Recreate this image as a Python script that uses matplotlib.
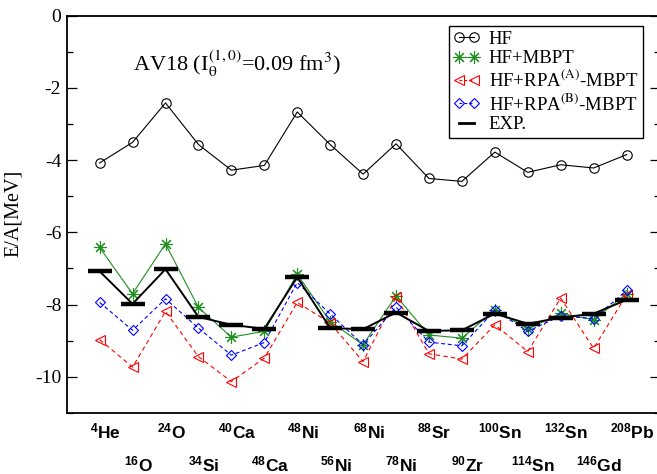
import matplotlib
matplotlib.use("Agg")
import matplotlib.pyplot as plt
from matplotlib.lines import Line2D
from matplotlib.ticker import MultipleLocator, NullLocator, FuncFormatter
from matplotlib.font_manager import FontProperties

plt.rcParams['mathtext.fontset'] = 'stix'
plt.rcParams['mathtext.rm'] = 'Liberation Sans:bold'
plt.rcParams['mathtext.it'] = 'Liberation Sans:bold'
plt.rcParams['mathtext.bf'] = 'Liberation Sans:bold'
plt.rcParams['mathtext.sf'] = 'Liberation Sans:bold'

# ---- data ----
mass_numbers = [4, 16, 24, 34, 40, 48, 48, 56, 68, 78, 88, 90, 100, 114, 132, 146, 208]
elements = ["He", "O", "O", "Si", "Ca", "Ca", "Ni", "Ni", "Ni", "Ni", "Sr", "Zr", "Sn", "Sn", "Sn", "Gd", "Pb"]

hf = [-4.08, -3.51, -2.42, -3.57, -4.28, -4.15, -2.67, -3.57, -4.39, -3.55,
      -4.51, -4.59, -3.78, -4.34, -4.13, -4.22, -3.85]
hf_mbpt = [-6.42, -7.70, -6.32, -8.08, -8.90, -8.74, -7.16, -8.47, -9.11, -7.76,
           -8.84, -8.93, -8.14, -8.68, -8.24, -8.42, -7.70]
rpa_a = [-8.97, -9.73, -8.19, -9.44, -10.13, -9.48, -7.94, -8.51, -9.58, -7.79,
         -9.36, -9.51, -8.56, -9.30, -7.82, -9.21, -7.73]
rpa_b = [-7.94, -8.71, -7.84, -8.65, -9.40, -9.05, -7.39, -8.26, -9.11, -8.07,
         -9.04, -9.14, -8.16, -8.74, -8.31, -8.39, -7.61]
exp = [-7.08, -7.98, -7.02, -8.34, -8.56, -8.67, -7.24, -8.65, -8.68, -8.22,
       -8.73, -8.71, -8.25, -8.53, -8.36, -8.25, -7.87]

x = list(range(len(hf)))

W, H = 657, 474
fig = plt.figure(figsize=(W / 100, H / 100), dpi=100)
left, right, top, bottom = 66.7, 659.5, 15.5, 413.0
ax = fig.add_axes([left / W, 1 - bottom / H, (right - left) / W, (bottom - top) / H])

green = '#1f8f1f'
ax.plot(x, hf, '-', color='black', lw=0.8, marker='o', ms=6.8, mfc='none', mec='black', mew=0.8, zorder=3)
ax.plot(x, hf_mbpt, '-', color=green, lw=0.8, marker=(8, 2, 0), ms=9, mec=green, mew=0.8, zorder=3)
ax.plot(x, rpa_a, color='red', lw=0.8, dashes=[4, 3], marker='<', ms=7.5, mfc='none', mec='red', mew=0.8, zorder=3)
ax.plot(x, rpa_b, color='blue', lw=0.8, dashes=[3.5, 2.5], marker='D', ms=5.5, mfc='none', mec='blue', mew=0.8, zorder=3)
ax.plot(x, exp, '-', color='black', lw=1.4, zorder=4)
ax.plot(x, exp, linestyle='none', marker='_', ms=17, mew=3.2, color='black', zorder=5)

ax.set_xlim(-1, 17)
ax.set_ylim(-11, 0)

ax.xaxis.set_major_locator(NullLocator())
ax.yaxis.set_major_locator(MultipleLocator(2))
ax.yaxis.set_minor_locator(MultipleLocator(1))
ax.yaxis.set_major_formatter(FuncFormatter(lambda v, p: f"{int(round(v))}"))
ax.tick_params(axis='y', which='major', direction='in', length=7.5, width=0.9, right=True,
               labelsize=14, pad=4)
ax.tick_params(axis='y', which='minor', direction='in', length=4.5, width=0.9, right=True)
for sp in ax.spines.values():
    sp.set_linewidth(1.3)

ax.set_ylabel("E/A[MeV]", fontfamily='Liberation Serif', fontsize=14.5)
ax.yaxis.set_label_coords(-(left - 23) / (right - left), 1 - (213.5 - top) / (bottom - top))
for lab in ax.get_yticklabels():
    lab.set_fontfamily('Liberation Serif')

# x labels, two rows
xt = ax.get_xaxis_transform()
for i, (a, el) in enumerate(zip(mass_numbers, elements)):
    yrow = -0.063 if i % 2 == 0 else -0.148
    ax.text(i + 0.17, yrow, f"$^{{{a}}}$" + el, transform=xt, ha='center', va='baseline',
            fontfamily='Liberation Sans', fontweight='bold', fontsize=12.5,
            math_fontfamily='custom', clip_on=False)

ax.text((133 - left) / (right - left), 1 - (71 - top) / (bottom - top),
        "AV18 (I$_{\\mathrm{\u03b8}}^{(1,0)}$=0.09 fm$^3$)", transform=ax.transAxes,
        fontfamily='Liberation Serif', fontsize=16, ha='left', va='baseline',
        math_fontfamily='stix')

handles = [
    Line2D([], [], color='black', lw=0.8, marker='o', ms=6.8, mfc='none', mew=0.8),
    Line2D([], [], color=green, lw=0.8, marker=(8, 2, 0), ms=9, mew=0.8),
    Line2D([], [], color='red', lw=0.8, dashes=[2.5, 2], marker='<', ms=7.5, mfc='none', mew=0.8),
    Line2D([], [], color='blue', lw=0.8, dashes=[2.5, 2], marker='D', ms=5.5, mfc='none', mew=0.8),
    Line2D([], [], color='black', lw=2.0),
]
labels = ["HF", "HF+MBPT", r"HF+RPA$^{(\mathrm{A})}$-MBPT", r"HF+RPA$^{(\mathrm{B})}$-MBPT", "EXP."]
prop = FontProperties(family='Liberation Serif', size=13.5, math_fontfamily='stix')
leg = ax.legend(handles, labels, loc='upper right',
                bbox_to_anchor=((643 - left) / (right - left), 1 - (26 - top) / (bottom - top)),
                borderaxespad=0, prop=prop, numpoints=2, handlelength=1.4, handletextpad=0.5,
                labelspacing=0.12, borderpad=0.25, fancybox=False, framealpha=1,
                edgecolor='black')
leg.get_frame().set_linewidth(1.0)
leg.set_zorder(10)

fig.savefig("out.png", dpi=100)
